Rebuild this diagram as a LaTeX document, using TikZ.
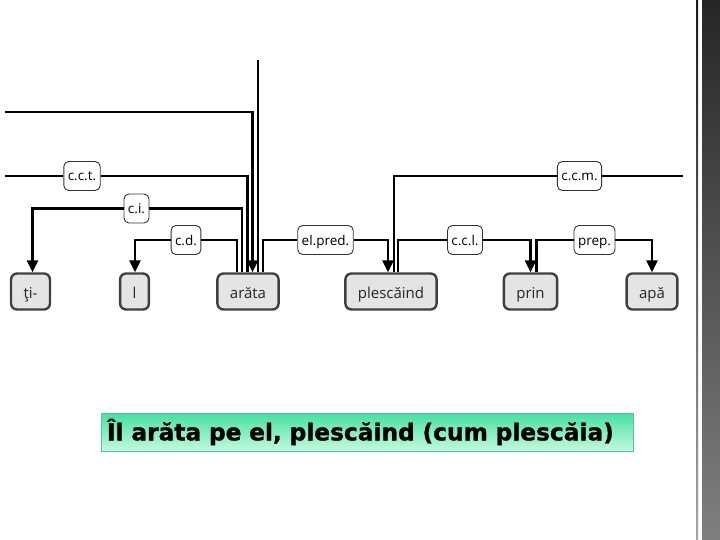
\documentclass[tikz,border=0pt]{standalone}
\usepackage{fontspec}
\setmainfont{Open Sans}
\newfontfamily\capfont{DejaVu Sans Bold}[FakeBold=1.2]
\usetikzlibrary{arrows.meta}
\definecolor{wordfill}{RGB}{228,228,228}
\definecolor{wordline}{RGB}{64,64,64}
\definecolor{capline}{RGB}{90,190,160}
\definecolor{captop}{RGB}{70,224,160}
\definecolor{capbot}{RGB}{196,250,222}

\tikzset{
  word/.style={draw=wordline, fill=wordfill, line width=2.4pt, rounded corners=6pt,
    minimum height=36pt, inner xsep=12.5pt, text height=15pt, text depth=2pt,
    text=black!85, font=\fontsize{15}{17}\selectfont},
  rel/.style={draw=black!80, fill=white, line width=0.9pt, rounded corners=5pt,
    minimum height=29pt, inner xsep=4pt, text height=12pt, text depth=2pt,
    font=\fontsize{13.5}{15}\selectfont},
  link/.style={line width=2.9pt},
  arr/.style={link, -{Triangle[length=12pt,width=11pt]}},
}

\begin{document}
\begin{tikzpicture}[x=1pt,y=-1pt]
  \useasboundingbox (0,0) rectangle (720,540);

  % words of the sentence
  \node[word] (ti)    at (30.5,291.5)  {ţi-};
  \node[word] (l)     at (134.5,291.5) {l};
  \node[word] (arata) at (248,291.5)   {arăta};
  \node[word] (plesc) at (391,291.5)   {plescăind};
  \node[word] (prin)  at (530.5,291.5) {prin};
  \node[word] (apa)   at (652,291.5)   {apă};

  % relation labels
  \node[rel] (cct)    at (82,176)    {c.c.t.};
  \node[rel] (ci)     at (136.5,208.5) {c.i.};
  \node[rel] (cd)     at (186,240)   {c.d.};
  \node[rel] (elpred) at (325.5,240) {el.pred.};
  \node[rel] (ccl)    at (465,240)   {c.c.l.};
  \node[rel] (prep)   at (594.5,240) {prep.};
  \node[rel] (ccm)    at (579.5,176) {c.c.m.};

  % loose ends going off the picture
  \coordinate (topL) at (5,112);
  \coordinate (topV) at (258,60);
  \coordinate (cctL) at (5,176);
  \coordinate (ccmR) at (683,176);

  % links into arata
  \draw[arr] (topL) -| ([xshift=4.5pt]arata.north);
  \draw[link] (topV) -- (topV |- arata.north);
  \draw[link] (cctL) -- (cct);
  \draw[link] (cct) -| ([xshift=-0.5pt]arata.north);

  % arata -> ti, l, plescaind
  \draw[link] ([xshift=-6pt]arata.north) |- (ci);
  \draw[arr] (ci) -| ([xshift=2pt]ti.north);
  \draw[link] ([xshift=-11pt]arata.north) |- (cd);
  \draw[arr] (cd) -| ([xshift=0.5pt]l.north);
  \draw[link] ([xshift=15pt]arata.north) |- (elpred);
  \draw[arr] (elpred) -| ([xshift=-3pt]plesc.north);

  % plescaind -> prin -> apa
  \draw[link] ([xshift=3pt]plesc.north) |- (ccm);
  \draw[link] (ccm) -- (ccmR);
  \draw[link] ([xshift=7pt]plesc.north) |- (ccl);
  \draw[arr] (ccl) -| (prin.north);
  \draw[link] ([xshift=6pt]prin.north) |- (prep);
  \draw[arr] (prep) -| (apa.north);

  % the sentence
  \node[draw=capline, line width=0.8pt, top color=captop, bottom color=capbot,
    minimum height=38pt, text width=520pt, inner xsep=6pt, align=left,
    font=\capfont\fontsize{23.3}{26}\selectfont] (sent) at (367,432)
    {Îl arăta pe el, plescăind (cum plescăia)};

  % right border strip
  \shade[top color=black!90, bottom color=black!35] (696,0) rectangle (698,540);
  \shade[top color=black!85, bottom color=black!50] (702,0) rectangle (720,540);
\end{tikzpicture}
\end{document}
